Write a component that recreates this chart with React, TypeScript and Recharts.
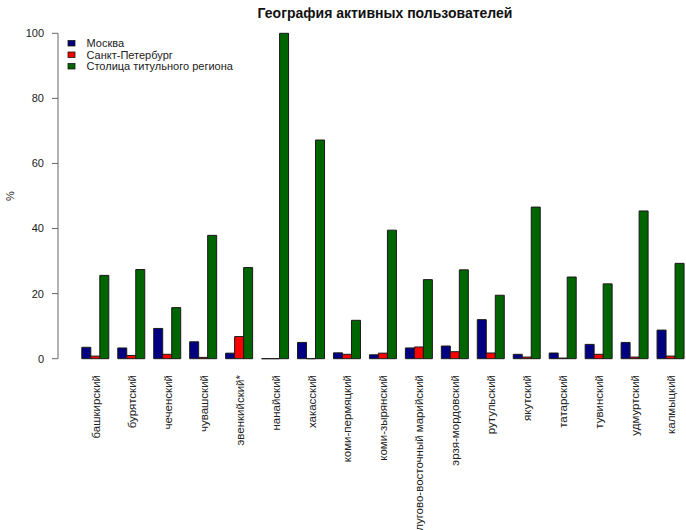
import React from 'react';
import { BarChart, Bar, XAxis, YAxis } from 'recharts';

const categories = [
  'башкирский', 'бурятский', 'чеченский', 'чувашский', 'эвенкийский*', 'нанайский',
  'хакасский', 'коми-пермяцкий', 'коми-зырянский', 'лугово-восточный марийский',
  'эрзя-мордовский', 'рутульский', 'якутский', 'татарский', 'тувинский', 'удмуртский', 'калмыцкий',
];
const moscow = [3.5, 3.3, 9.3, 5.2, 1.7, 0, 5.0, 1.8, 1.2, 3.3, 3.9, 12.0, 1.35, 1.75, 4.4, 5.0, 8.8];
const spb = [0.8, 1.0, 1.35, 0.4, 6.8, 0, 0, 1.35, 1.7, 3.6, 2.15, 1.75, 0.5, 0.2, 1.35, 0.5, 0.8];
const capital = [25.6, 27.4, 15.7, 37.9, 28.0, 100, 67.2, 11.8, 39.5, 24.3, 27.3, 19.5, 46.6, 25.1, 23.0, 45.4, 29.3];
const yTicks = [0, 20, 40, 60, 80, 100];

const seriesNames = ['Москва', 'Санкт-Петербург', 'Столица титульного региона'];
const seriesKeys = ['moscow', 'spb', 'capital'];
const seriesColors = ['#000080', '#FF0000', '#006400'];

const title = 'География активных пользователей';
const yLabel = '%';

const data = categories.map((name, i) => ({
  name,
  moscow: moscow[i],
  spb: spb[i],
  capital: capital[i],
}));

const FONT = '"Liberation Sans", Arial, sans-serif';

const BarShape = (props: any) => {
  const { x, y, width, height, fill } = props;
  const d = `M${x},${y}h${width}v${height}h${-width}Z`;
  return <path d={d} fill={fill} stroke="#1a1a1a" strokeWidth={1} />;
};

const XTick = (props: any) => {
  const { x, payload } = props;
  const ty = 375;
  return (
    <text
      x={x}
      y={ty}
      transform={`rotate(-90, ${x}, ${ty})`}
      textAnchor="end"
      dy="0.35em"
      fontSize={11.5}
      fontFamily={FONT}
      fill="#222"
    >
      {payload.value}
    </text>
  );
};

export default function App() {
  return (
    <div style={{ position: 'absolute', left: 0, top: 0, width: 686, height: 530, overflow: 'hidden', background: '#fff' }}>
      <BarChart
        width={689}
        height={530}
        data={data}
        margin={{ top: 33.3, right: 0, left: 0, bottom: 0 }}
        barGap={0}
        barSize={9}
      >
        <XAxis
          dataKey="name"
          padding={{ left: 19.8, right: 0 }}
          height={171.3}
          axisLine={false}
          tickLine={false}
          interval={0}
          tick={<XTick />}
        />
        <YAxis
          type="number"
          domain={[0, 100]}
          ticks={yTicks}
          width={58}
          tickSize={6}
          tickMargin={8}
          axisLine={{ stroke: '#666' }}
          tickLine={{ stroke: '#666' }}
          tick={{ fontSize: 11, fontFamily: FONT, fill: '#222' }}
          interval={0}
        />
        {seriesKeys.map((k, i) => (
          <Bar key={k} dataKey={k} name={seriesNames[i]} fill={seriesColors[i]} shape={BarShape} isAnimationActive={false} />
        ))}
      </BarChart>
      <svg width={686} height={530} style={{ position: 'absolute', left: 0, top: 0, pointerEvents: 'none' }}>
        <text x={385} y={18} textAnchor="middle" fontSize={14} fontWeight="bold" fontFamily={FONT} fill="#111">
          {title}
        </text>
        <text
          x={10}
          y={196}
          transform="rotate(-90, 10, 196)"
          textAnchor="middle"
          dy="0.35em"
          fontSize={11}
          fontFamily={FONT}
          fill="#222"
        >
          {yLabel}
        </text>
        {seriesNames.map((n, i) => (
          <g key={n}>
            <rect x={68} y={40.5 + i * 11.5} width={7} height={5.5} fill={seriesColors[i]} stroke="#1a1a1a" strokeWidth={0.8} />
            <text x={86.5} y={43.2 + i * 11.5} dy="0.35em" fontSize={11} fontFamily={FONT} fill="#222">
              {n}
            </text>
          </g>
        ))}
      </svg>
    </div>
  );
}
